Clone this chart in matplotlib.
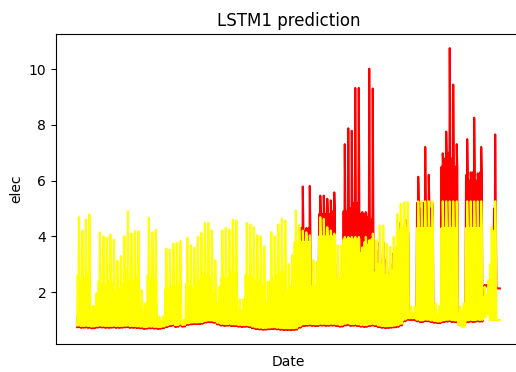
import numpy as np
import matplotlib
matplotlib.use('Agg')
import matplotlib.pyplot as plt

# daily readings (one entry per day)
pred_peak = [4.69, 4.21, 4.60, 4.79, 1.50, 1.95, 4.14, 4.00, 3.95, 4.07,
             3.88, 3.12, 3.29, 4.00, 4.90, 4.10, 4.19, 4.19, 2.07, 1.60,
             4.67, 4.15, 4.24, 1.12, 1.12, 3.56, 3.52, 3.74, 3.76, 3.83,
             1.00, 3.95, 3.68, 3.60, 3.98, 4.12, 4.48, 4.48, 4.21, 3.14,
             2.19, 4.21, 4.31, 4.24, 4.60, 4.57, 1.74, 1.74, 4.48, 4.43,
             4.33, 4.04, 4.00, 3.64, 2.37, 4.15, 4.00, 4.43, 4.63, 4.57,
             3.00, 3.32, 4.93, 4.39, 4.21, 4.15, 4.04, 3.14, 3.08, 4.69,
             4.63, 4.33, 4.21, 4.10, 3.68, 3.68, 3.98, 3.98, 3.98, 3.98,
             3.98, 3.60, 3.98, 3.86, 4.10, 3.86, 4.39, 4.39, 3.74, 3.62,
             3.98, 4.81, 5.17, 5.23, 5.23, 1.48, 1.48, 5.26, 5.26, 5.26,
             5.26, 5.26, 1.60, 1.50, 5.26, 5.26, 5.26, 5.26, 5.26, 1.48,
             1.60, 5.26, 5.26, 5.26, 5.26, 5.26, 2.19, 2.43, 4.33, 5.26,
             1.00]
pred_mid = [2.6, 2.4, 2.5, 2.7, 1.2, 1.5, 2.4, 2.3, 2.2, 2.4,
            2.3, 2.0, 2.1, 2.3, 2.8, 2.4, 2.4, 2.5, 1.5, 1.2,
            2.6, 2.4, 2.4, 0.95, 0.95, 2.1, 2.1, 2.2, 2.2, 2.3,
            0.9, 2.3, 2.2, 2.1, 2.3, 2.4, 2.6, 2.6, 2.5, 2.0,
            1.6, 2.5, 2.5, 2.5, 2.7, 2.7, 1.3, 1.3, 2.6, 2.6,
            2.5, 2.4, 2.4, 2.2, 1.6, 2.4, 2.4, 2.6, 2.7, 2.7,
            2.0, 2.2, 3.8, 3.8, 3.8, 3.8, 3.8, 2.2, 2.2, 4.0,
            4.0, 4.0, 4.0, 4.0, 2.5, 2.5, 3.9, 3.9, 3.9, 3.9,
            3.9, 3.4, 3.8, 3.7, 3.9, 2.7, 3.0, 3.0, 2.6, 2.6,
            2.8, 3.6, 4.2, 4.3, 4.3, 1.2, 1.2, 4.3, 4.3, 4.3,
            4.3, 4.3, 1.3, 1.2, 4.3, 4.3, 4.3, 4.3, 4.3, 1.2,
            1.3, 4.3, 4.3, 4.3, 4.3, 4.3, 1.8, 1.9, 3.0, 4.2,
            1.0]
pred_low = [0.80, 0.78, 0.79, 0.78, 0.76, 0.78, 0.80, 0.79, 0.78, 0.78,
            0.79, 0.78, 0.78, 0.79, 0.80, 0.78, 0.78, 0.77, 0.76, 0.74,
            0.76, 0.76, 0.75, 0.74, 0.76, 0.80, 0.84, 0.86, 0.81, 0.86,
            0.82, 0.88, 0.90, 0.91, 0.91, 0.92, 0.96, 0.98, 0.98, 0.96,
            0.90, 0.86, 0.85, 0.86, 0.84, 0.84, 0.82, 0.81, 0.82, 0.80,
            0.76, 0.73, 0.72, 0.71, 0.72, 0.73, 0.74, 0.72, 0.71, 0.70,
            0.70, 0.70, 0.71, 0.78, 0.84, 0.85, 0.86, 0.85, 0.84, 0.86,
            0.86, 0.85, 0.86, 0.86, 0.84, 0.82, 0.86, 0.88, 0.85, 0.86,
            0.84, 0.82, 0.81, 0.84, 0.86, 0.84, 0.80, 0.78, 0.77, 0.78,
            0.79, 0.81, 0.86, 1.01, 1.06, 1.06, 1.06, 1.01, 0.98, 1.01,
            1.01, 0.98, 0.96, 0.94, 0.98, 1.00, 1.01, 0.99, 0.98, 0.80,
            0.75, 0.98, 1.00, 0.99, 1.01, 1.00, 1.10, 1.20, 1.00, 1.00,
            1.00]

actual_peak = [1.5, 1.4, 1.6, 1.5, 0.9, 1.0, 1.4, 1.3, 1.5, 1.3,
               1.4, 1.2, 1.2, 1.4, 1.7, 1.4, 1.5, 1.4, 1.0, 0.9,
               1.5, 1.4, 1.5, 0.8, 0.8, 1.2, 1.3, 1.3, 1.2, 1.4,
               0.9, 1.4, 1.3, 1.3, 1.4, 1.5, 1.6, 1.6, 1.5, 1.3,
               1.0, 1.5, 1.6, 1.5, 1.7, 1.6, 0.9, 0.9, 1.6, 1.6,
               1.5, 1.4, 1.4, 1.3, 0.9, 1.5, 1.5, 1.7, 1.8, 1.8,
               1.2, 1.5, 3.5, 4.3, 5.79, 4.3, 5.81, 1.5, 1.5, 5.46,
               5.46, 5.35, 5.29, 5.58, 2.0, 2.0, 7.31, 7.88, 7.79, 9.33,
               9.33, 4.87, 4.87, 10.02, 9.31, 3.5, 3.8, 3.8, 3.2, 3.0,
               3.4, 4.0, 4.5, 4.6, 4.6, 1.2, 1.2, 6.14, 5.2, 7.21,
               6.21, 5.2, 1.3, 1.2, 6.98, 7.76, 10.76, 9.45, 7.31, 1.2,
               1.3, 7.49, 6.3, 8.26, 6.26, 7.21, 2.25, 2.25, 2.3, 7.66,
               2.13]
actual_mid = [1.1, 1.0, 1.1, 1.0, 0.8, 0.8, 1.0, 1.0, 1.1, 1.0,
              1.0, 0.9, 0.9, 1.0, 1.2, 1.0, 1.1, 1.0, 0.8, 0.8,
              1.1, 1.0, 1.1, 0.75, 0.75, 0.9, 1.0, 1.0, 0.9, 1.0,
              0.8, 1.0, 1.0, 1.0, 1.1, 1.1, 1.2, 1.2, 1.1, 1.0,
              0.9, 1.1, 1.1, 1.1, 1.2, 1.1, 0.8, 0.8, 1.1, 1.1,
              1.0, 1.0, 1.0, 0.9, 0.8, 1.0, 1.0, 1.2, 1.2, 1.2,
              1.0, 1.2, 2.8, 3.5, 4.3, 4.2, 4.3, 1.2, 1.2, 4.8,
              4.8, 4.8, 4.8, 4.9, 1.8, 1.8, 4.9, 4.9, 5.0, 5.2,
              5.2, 4.8, 4.8, 4.7, 4.6, 2.8, 3.0, 3.0, 2.6, 2.5,
              2.8, 3.5, 4.0, 4.0, 4.0, 1.0, 1.0, 5.2, 5.0, 5.2,
              5.2, 5.0, 1.0, 1.0, 6.5, 6.8, 7.0, 6.8, 6.5, 1.0,
              1.0, 6.2, 6.0, 6.3, 6.0, 6.3, 2.2, 2.2, 2.2, 5.0,
              2.13]
actual_low = [0.74, 0.72, 0.73, 0.72, 0.70, 0.72, 0.74, 0.73, 0.72, 0.72,
              0.73, 0.72, 0.72, 0.73, 0.74, 0.72, 0.72, 0.71, 0.70, 0.68,
              0.70, 0.70, 0.69, 0.68, 0.70, 0.74, 0.78, 0.80, 0.75, 0.80,
              0.76, 0.82, 0.84, 0.85, 0.85, 0.86, 0.90, 0.92, 0.92, 0.90,
              0.84, 0.80, 0.79, 0.80, 0.78, 0.78, 0.76, 0.75, 0.76, 0.74,
              0.70, 0.67, 0.66, 0.65, 0.66, 0.67, 0.68, 0.66, 0.65, 0.64,
              0.64, 0.64, 0.65, 0.72, 0.78, 0.79, 0.80, 0.79, 0.78, 0.80,
              0.80, 0.79, 0.80, 0.80, 0.78, 0.76, 0.80, 0.82, 0.79, 0.80,
              0.78, 0.76, 0.75, 0.78, 0.80, 0.78, 0.74, 0.72, 0.71, 0.72,
              0.73, 0.75, 0.80, 0.95, 1.00, 1.00, 1.00, 0.95, 0.92, 0.95,
              0.95, 0.92, 0.90, 0.88, 0.92, 0.94, 0.95, 0.93, 0.92, 0.90,
              0.88, 0.92, 0.94, 0.93, 0.95, 0.94, 2.20, 2.25, 2.20, 2.15,
              2.13]


def day_series(low, mid, peak):
    # night low, morning, dip, daily peak, evening, night low
    low, mid, peak = np.asarray(low), np.asarray(mid), np.asarray(peak)
    return np.column_stack([low, mid, low, peak, mid, low]).ravel()


actual = day_series(actual_low, actual_mid, actual_peak)
pred = day_series(pred_low, pred_mid, pred_peak)
t = np.arange(len(actual))

fig = plt.figure(figsize=(5.16, 3.72), dpi=100)
ax = fig.add_axes([56 / 516, 28 / 372, 465 / 516, 310 / 372])

ax.plot(t, actual, color='red')
ax.plot(t, pred, color='yellow')

ax.set_xticks([])
ax.set_yticks([2, 4, 6, 8, 10])
ax.set_title('LSTM1 prediction')
ax.set_xlabel('Date', labelpad=8)
ax.set_ylabel('elec')

fig.savefig('out.png', dpi=100)
